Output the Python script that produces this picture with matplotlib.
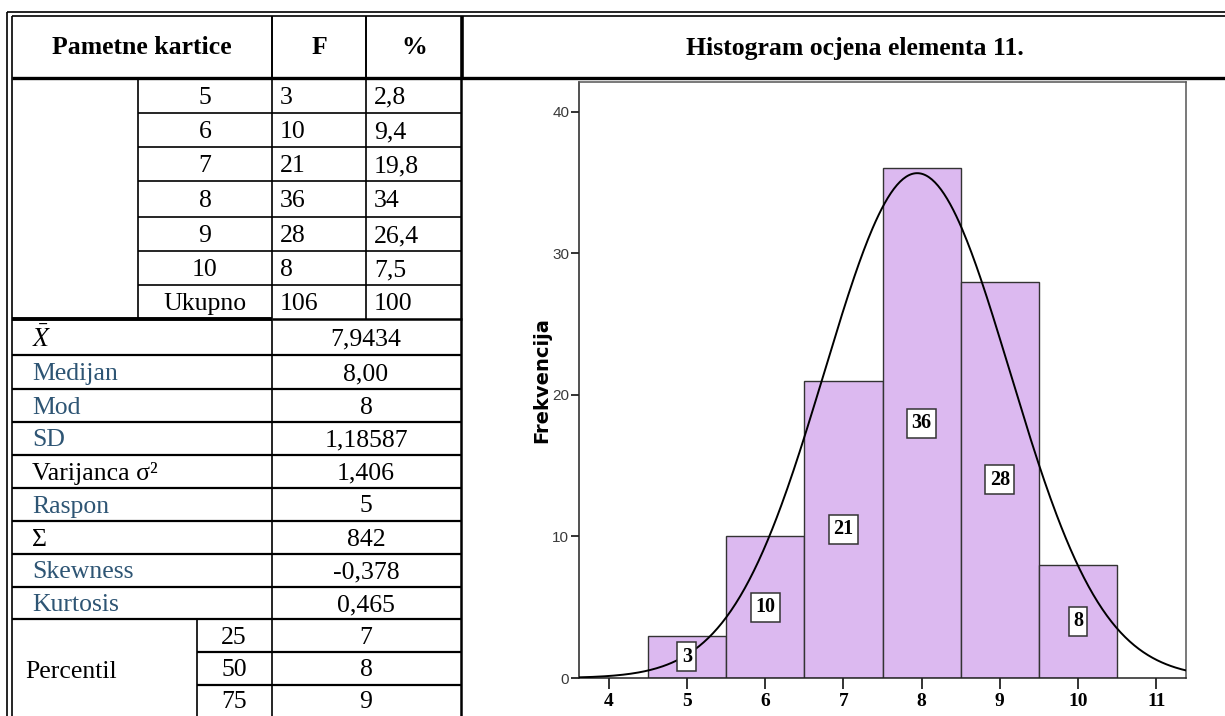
import numpy as np
import matplotlib
matplotlib.use('Agg')
import matplotlib.pyplot as plt

# podaci
grades = [5, 6, 7, 8, 9, 10]
freq = [3, 10, 21, 36, 28, 8]
pct = ['2,8', '9,4', '19,8', '34', '26,4', '7,5']
total_f = '106'
total_pct = '100'

stat_names = [r'$\bar{X}$', 'Medijan', 'Mod', 'SD', 'Varijanca σ²', 'Raspon', 'Σ', 'Skewness', 'Kurtosis']
stat_values = ['7,9434', '8,00', '8', '1,18587', '1,406', '5', '842', '-0,378', '0,465']
stat_colored = [False, True, True, True, False, True, False, True, True]
perc_p = ['25', '50', '75']
perc_v = ['7', '8', '9']

mean = 7.9434
sd = 1.18587
n_total = 106

x_ticks = [4, 5, 6, 7, 8, 9, 10, 11]
y_ticks = [0, 10, 20, 30, 40]

plt.rcParams['mathtext.fontset'] = 'stix'
serif = 'Liberation Serif'
blue = '#2e5574'
fs = 18.5

fig = plt.figure(figsize=(12.25, 7.16), dpi=100)

# tablica - crtamo u pikselima
ax = fig.add_axes([0, 0, 1, 1])
ax.set_xlim(0, 1225)
ax.set_ylim(716, 0)
ax.axis('off')

def hl(y, x0, x1, lw=1.2):
    ax.plot([x0, x1], [y, y], color='black', lw=lw, solid_capstyle='butt')

def vl(x, y0, y1, lw=1.2):
    ax.plot([x, x], [y0, y1], color='black', lw=lw, solid_capstyle='butt')

def txt(x, y, s, ha='center', color='black', weight='normal'):
    ax.text(x, y + 2, s, ha=ha, va='center', fontsize=fs, family=serif,
            color=color, weight=weight)

# vanjski okvir (dvostruka linija)
vl(7, 12, 716, 1.2)
vl(12, 16, 716, 1.2)
hl(12, 7, 1225, 1.2)
hl(16, 12, 1225, 1.2)

# zaglavlje
hl(78, 12, 1225, 2.4)
vl(272, 16, 78, 1.4)
vl(366, 16, 78, 1.4)
vl(462, 16, 78, 2.6)
txt(142, 46, 'Pametne kartice', weight='bold')
txt(319, 46, 'F', weight='bold')
txt(414, 46, '%', weight='bold')
txt(855, 46, 'Histogram ocjena elementa 11.', weight='bold')

# gornji dio - frekvencije
up = [78, 113, 147, 181, 217, 251, 285, 319]
for y in up[1:-1]:
    hl(y, 138, 462)
vl(138, 78, 319)
vl(272, 78, 716)
vl(366, 78, 319)
vl(461, 78, 716, 1.8)
rows = [str(g) for g in grades] + ['Ukupno']
fvals = [str(f) for f in freq] + [total_f]
pvals = pct + [total_pct]
for i in range(len(rows)):
    yc = (up[i] + up[i + 1]) / 2
    txt(205, yc, rows[i])
    txt(280, yc, fvals[i], ha='left')
    txt(374, yc, pvals[i], ha='left')

# statistike
hl(319, 12, 272, 2.8)
hl(319, 272, 462, 1.8)
lo = [319, 355, 389, 422, 455, 488, 521, 554, 587, 619]
for y in lo[1:]:
    hl(y, 12, 462, 1.6)
for i in range(len(stat_names)):
    yc = (lo[i] + lo[i + 1]) / 2
    txt(32, yc, stat_names[i], ha='left', color=blue if stat_colored[i] else 'black')
    txt(366, yc, stat_values[i])

# percentili
pe = [619, 652, 685, 716]
vl(197, 619, 716)
for y in pe[1:-1]:
    hl(y, 197, 462, 1.6)
txt(25, 670, 'Percentil', ha='left')
for i in range(3):
    yc = (pe[i] + pe[i + 1]) / 2
    txt(234, yc, perc_p[i])
    txt(366, yc, perc_v[i])

# histogram
hx0, hx1, hy0, hy1 = 579, 1186, 678, 82
hax = fig.add_axes([hx0 / 1225, (716 - hy0) / 716, (hx1 - hx0) / 1225, (hy0 - hy1) / 716])
hax.bar(grades, freq, width=1.0, color='#dcb9f0', edgecolor='#333333', linewidth=1.0, zorder=2)
xs = np.linspace(3.62, 11.38, 400)
ys = n_total / (sd * np.sqrt(2 * np.pi)) * np.exp(-0.5 * ((xs - mean) / sd) ** 2)
hax.plot(xs, ys, color='black', lw=1.4, zorder=3)
for g, f in zip(grades, freq):
    hax.text(g, f / 2, str(f), ha='center', va='center', fontsize=14.5, family=serif,
             weight='bold', zorder=4,
             bbox=dict(boxstyle='square,pad=0.22', fc='white', ec='#333333', lw=1.1))
hax.set_xlim(3.62, 11.38)
hax.set_ylim(0, 42.1)
hax.set_xticks(x_ticks)
hax.set_xticklabels([str(t) for t in x_ticks], family=serif, weight='bold', fontsize=14)
hax.set_yticks(y_ticks)
hax.set_yticklabels([str(t) for t in y_ticks], family='Liberation Sans', fontsize=11, color='#3a3a3a')
hax.tick_params(axis='x', length=8, width=1.4, color='#333333', pad=3)
hax.tick_params(axis='y', length=6, width=1.4, color='#333333', pad=1)
for s in hax.spines.values():
    s.set_color('#555555')
    s.set_linewidth(1.1)
hax.spines['left'].set_color('#222222')
hax.spines['bottom'].set_color('#222222')
hax.set_ylabel('Frekvencija', family='DejaVu Sans', weight='bold', fontsize=14, labelpad=1)

fig.savefig('out.png', dpi=100)
